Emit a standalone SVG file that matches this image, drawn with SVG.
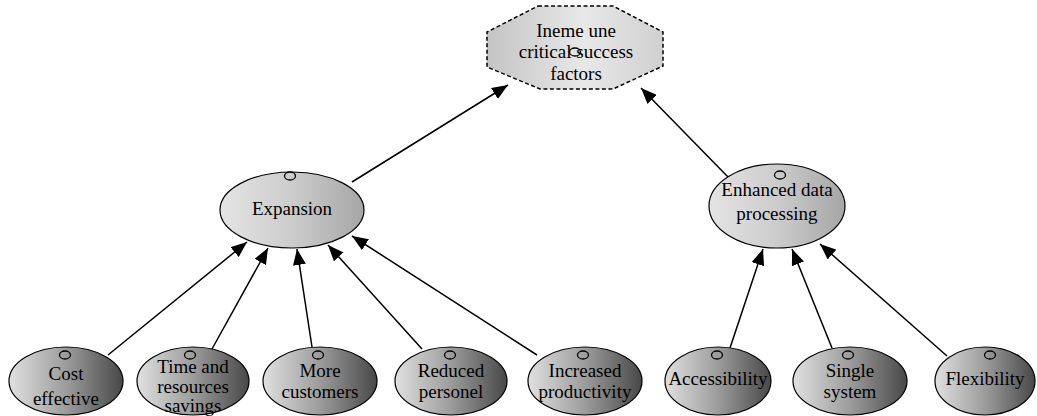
<svg xmlns="http://www.w3.org/2000/svg" width="1037" height="416" viewBox="0 0 1037 416">
<defs>
<linearGradient id="gTop" x1="0" y1="0" x2="1" y2="0">
<stop offset="0" stop-color="#e4e4e4"/><stop offset="0.5" stop-color="#cccccc"/><stop offset="1" stop-color="#a6a6a6"/>
</linearGradient>
<linearGradient id="gBot" x1="0" y1="0" x2="1" y2="0">
<stop offset="0" stop-color="#e0e0e0"/><stop offset="0.5" stop-color="#9c9c9c"/><stop offset="1" stop-color="#484848"/>
</linearGradient>
<linearGradient id="gOct" x1="0" y1="0" x2="1" y2="0">
<stop offset="0" stop-color="#c4c4c4"/><stop offset="0.55" stop-color="#e8e8e8"/><stop offset="1" stop-color="#d0d0d0"/>
</linearGradient>
<marker id="arr" markerUnits="userSpaceOnUse" markerWidth="17" markerHeight="13" refX="16" refY="6.5" orient="auto">
<path d="M0,0 L16,6.5 L0,13 z" fill="#000"/>
</marker>
</defs>
<style>
.top{fill:url(#gTop);stroke:#000;stroke-width:1.2}
.bot{fill:url(#gBot);stroke:#000;stroke-width:1.2}
.oct{fill:url(#gOct);stroke:#000;stroke-width:1.5;stroke-dasharray:4 2.5}
.dot{fill:none;stroke:#000;stroke-width:1.3}
text{font-family:"Liberation Serif","Times New Roman",serif;font-size:19px;fill:#000;text-anchor:middle}
.edge{stroke:#000;stroke-width:1.5;fill:none;marker-end:url(#arr)}
</style>
<g id="connectors">
<line class="edge" x1="352" y1="182" x2="508" y2="85"/>
<line class="edge" x1="728" y1="177" x2="641" y2="88"/>
<line class="edge" x1="108" y1="355" x2="247" y2="242"/>
<line class="edge" x1="212" y1="349" x2="268" y2="248"/>
<line class="edge" x1="312" y1="347" x2="297" y2="249"/>
<line class="edge" x1="422" y1="349" x2="328" y2="245"/>
<line class="edge" x1="537" y1="355" x2="352" y2="236"/>
<line class="edge" x1="730" y1="348" x2="763" y2="249"/>
<line class="edge" x1="832" y1="348" x2="792" y2="249"/>
<line class="edge" x1="947" y1="356" x2="820" y2="244"/>
</g>
<g id="node-goal">
<polygon class="oct" points="538,6 613,6 663,32 663,66 613,89 540,89 487,67 487,32"/>
<text x="576" y="37">Ineme une</text>
<text x="576" y="58">critical success</text>
<text x="576" y="80">factors</text>
<ellipse class="dot" cx="575" cy="52" rx="5.5" ry="4"/>
</g>
<g id="node-expansion">
<ellipse class="top" cx="292" cy="210" rx="72" ry="38"/>
<ellipse class="dot" cx="290" cy="176" rx="5.5" ry="4"/>
<text x="292" y="215">Expansion</text>
</g>
<g id="node-enhanced">
<ellipse class="top" cx="777" cy="206" rx="68" ry="42"/>
<ellipse class="dot" cx="780" cy="175" rx="5.5" ry="4"/>
<text x="777" y="196">Enhanced data</text>
<text x="777" y="220">processing</text>
</g>
<g id="node-cost">
<ellipse class="bot" cx="66" cy="381" rx="57" ry="34"/>
<ellipse class="dot" cx="65" cy="355" rx="5.5" ry="4"/>
<text x="66" y="380">Cost</text>
<text x="66" y="405">effective</text>
</g>
<g id="node-time">
<ellipse class="bot" cx="193" cy="381" rx="56" ry="34"/>
<ellipse class="dot" cx="190" cy="355" rx="5.5" ry="4"/>
<text x="193" y="373">Time and</text>
<text x="193" y="393">resources</text>
<text x="193" y="412">savings</text>
</g>
<g id="node-more">
<ellipse class="bot" cx="320" cy="381" rx="57" ry="34"/>
<ellipse class="dot" cx="318" cy="355" rx="5.5" ry="4"/>
<text x="320" y="377">More</text>
<text x="320" y="398">customers</text>
</g>
<g id="node-reduced">
<ellipse class="bot" cx="451" cy="381" rx="56" ry="34"/>
<ellipse class="dot" cx="450" cy="355" rx="5.5" ry="4"/>
<text x="451" y="377">Reduced</text>
<text x="451" y="398">personel</text>
</g>
<g id="node-increased">
<ellipse class="bot" cx="585" cy="381" rx="57" ry="34"/>
<ellipse class="dot" cx="583" cy="355" rx="5.5" ry="4"/>
<text x="585" y="377">Increased</text>
<text x="585" y="398">productivity</text>
</g>
<g id="node-accessibility">
<ellipse class="bot" cx="718" cy="381" rx="53" ry="34"/>
<ellipse class="dot" cx="717" cy="355" rx="5.5" ry="4"/>
<text x="718" y="385">Accessibility</text>
</g>
<g id="node-single">
<ellipse class="bot" cx="850" cy="381" rx="57" ry="34"/>
<ellipse class="dot" cx="848" cy="355" rx="5.5" ry="4"/>
<text x="850" y="377">Single</text>
<text x="850" y="398">system</text>
</g>
<g id="node-flexibility">
<ellipse class="bot" cx="985" cy="381" rx="50" ry="34"/>
<ellipse class="dot" cx="990" cy="355" rx="5.5" ry="4"/>
<text x="985" y="385">Flexibility</text>
</g>
</svg>
